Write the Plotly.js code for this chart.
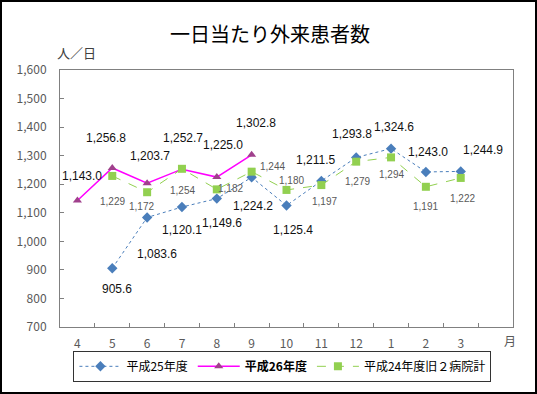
<!DOCTYPE html>
<html><head><meta charset="utf-8">
<script src="https://cdn.plot.ly/plotly-3.0.1.min.js"></script>
<style>
html,body{margin:0;padding:0;background:#fff}
#wrap{position:relative;width:537px;height:394px}
#chart{width:537px;height:394px}
#frame{position:absolute;left:0;top:0;width:537px;height:394px;box-sizing:border-box;border:2px solid #000;pointer-events:none}
</style></head><body>
<div id="wrap"><div id="chart"></div><div id="frame"></div></div>
<script>
// ---- data ----
const months = ['4','5','6','7','8','9','10','11','12','1','2','3'];
const h25 = [null,905.6,1083.6,1120.1,1149.6,1224.2,1125.4,1211.5,1293.8,1324.6,1243.0,1244.9];
const h26 = [1143.0,1256.8,1203.7,1252.7,1225.0,1302.8,null,null,null,null,null,null];
const h24 = [null,1229,1172,1254,1182,1244,1180,1197,1279,1294,1191,1222];
const seriesNames = ['平成25年度','<b>平成26年度</b>','平成24年度旧２病院計'];

// ---- label placement (pixel offsets from each point) ----
const h25dx = [0,5,10,0,5,1,6,-6,-4,3,2,22];
const h25dy = [0,21,37,23,24,29,24,-21,-23,-22,-20,-21];
const h26dx = [5,-6,3,1,6,4,0,0,0,0,0,0];
const h26dy = [-25,-30,-27,-31,-32,-32,0,0,0,0,0,0];
const h24dx = [0,0,-6,1,14,21,5,3,1,0,0,2];
const h24dy = [0,26,14,22,-1,-5,-9,16,20,17,20,21];

function fmt(v, dec){
  const s = v.toFixed(dec);
  const parts = s.split('.');
  parts[0] = parts[0].replace(/\B(?=(\d{3})+(?!\d))/g, ',');
  return parts.join('.');
}

const numFont = 'Liberation Sans, Arial, sans-serif';
const jpFont = 'Noto Sans CJK JP, sans-serif';

const annotations = [];
function addLabels(vals, dx, dy, dec, font){
  vals.forEach((v,i)=>{
    if(v===null) return;
    // on a category axis, annotation x is the category index
    annotations.push({x: i, y: v, xref:'x', yref:'y', text: fmt(v,dec), showarrow:false,
      xshift: dx[i], yshift: -dy[i], font: font});
  });
}
addLabels(h25, h25dx, h25dy, 1, {family:numFont, size:12, color:'#111'});
addLabels(h26, h26dx, h26dy, 1, {family:numFont, size:12, color:'#111'});
addLabels(h24, h24dx, h24dy, 0, {family:numFont, size:10, color:'#595959'});

annotations.push({xref:'paper', yref:'paper', x:-0.012, y:1.069, xanchor:'left', yanchor:'middle',
  text:'人／日', showarrow:false, font:{family:jpFont, size:13, color:'#404040'}});
annotations.push({xref:'paper', yref:'paper', x:0.993, y:-0.054, xanchor:'center', yanchor:'middle',
  text:'月', showarrow:false, font:{family:jpFont, size:12, color:'#595959'}});

const traces = [
  {x: months, y: h25, name: seriesNames[0], type:'scatter', mode:'lines+markers',
   line:{color:'#4a7ebb', width:1, dash:'dot'}, marker:{symbol:'diamond', size:8, color:'#4a7ebb'}},
  {x: months, y: h26, name: seriesNames[1], type:'scatter', mode:'lines+markers',
   line:{color:'#ff00ff', width:1.5}, marker:{symbol:'triangle-up', size:8, color:'#a0408c'}},
  {x: months, y: h24, name: seriesNames[2], type:'scatter', mode:'lines+markers',
   line:{color:'#92d050', width:1, dash:'dash'}, marker:{symbol:'square', size:8, color:'#92d050'}}
];

const layout = {
  width:537, height:394,
  margin:{l:60, r:24, t:70, b:63},
  paper_bgcolor:'#fff', plot_bgcolor:'#fff',
  title:{text:'一日当たり外来患者数', font:{family:jpFont, size:20, color:'#000'},
    x:0.503, xanchor:'center', y:1-35/394, yanchor:'middle'},
  xaxis:{type:'category', categoryorder:'array', categoryarray: months, range:[-0.5,12.5],
    tickson:'boundaries', ticks:'inside', ticklen:4, tickcolor:'#808080',
    showline:true, linecolor:'#808080', linewidth:1, mirror:true, showgrid:false, zeroline:false,
    ticklabelstandoff:6,
    tickfont:{family:jpFont, size:12, color:'#595959'}},
  yaxis:{range:[700,1600], tick0:700, dtick:100, tickformat:',d',
    ticks:'inside', ticklen:4, tickcolor:'#808080',
    showline:true, linecolor:'#808080', linewidth:1, mirror:true, showgrid:false, zeroline:false,
    ticklabelstandoff:10,
    tickfont:{family:jpFont, size:12, color:'#595959'}},
  showlegend:true,
  legend:{orientation:'h', x:0.491, xanchor:'center', y:-0.153, yanchor:'middle',
    bordercolor:'#333', borderwidth:1, bgcolor:'#fff', traceorder:'normal',
    font:{family:jpFont, size:12, color:'#000'}, itemwidth:42},
  annotations: annotations
};

Plotly.newPlot('chart', traces, layout, {displayModeBar:false, staticPlot:true});
</script>
</body></html>
